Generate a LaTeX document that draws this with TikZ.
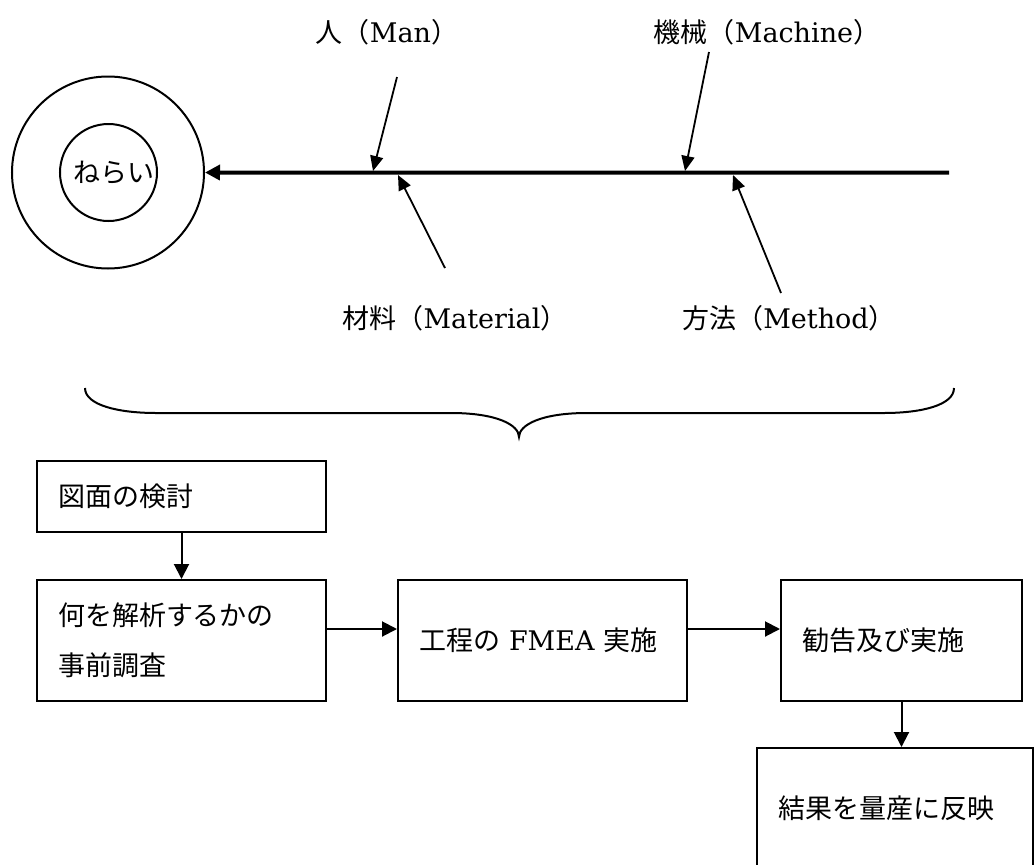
\documentclass[tikz,border=0pt]{standalone}
\usepackage{fontspec}
\setmainfont{DejaVu Serif}
\newfontfamily\jp{Noto Sans CJK JP}
\usetikzlibrary{arrows.meta}
\begin{document}
\begin{tikzpicture}[x=1pt,y=-1pt,
  font=\fontsize{27}{50}\selectfont,
  ring/.style={circle,draw,line width=2pt,inner sep=0pt},
  bone/.style={line width=1.8pt,-{Triangle[length=15pt,width=13pt]}},
  spine/.style={line width=4pt,-{Triangle[length=15pt,width=15pt]}},
  flow/.style={line width=2pt,-{Triangle[length=15pt,width=15pt]}},
  lbl/.style={inner sep=0pt},
  stepbox/.style={draw,line width=2pt,inner xsep=21pt,inner ysep=0pt,align=left}]
\useasboundingbox (0,0) rectangle (1034,865);

% goal circles
\node[ring,minimum size=192pt] (goal) at (108,172.5) {};
\node[ring,minimum size=97pt] (aim) at (108.5,172.5) {};
\node[lbl] (aimtxt) at (114,173) {\jp ねらい};

% spine
\coordinate (spineR) at (949,172.7);
\draw[spine] (spineR) -- (goal);

% bones
\coordinate (manS) at (397,77);  \coordinate (manT) at (373,171);
\coordinate (macS) at (709,52);  \coordinate (macT) at (685,171);
\coordinate (matS) at (445,268); \coordinate (matT) at (398,175);
\coordinate (metS) at (781,293); \coordinate (metT) at (733,175);
\draw[bone] (manS) -- (manT);
\draw[bone] (macS) -- (macT);
\draw[bone] (matS) -- (matT);
\draw[bone] (metS) -- (metT);

\node[lbl] (manL) at (387,32) {{\jp 人（}Man{\jp ）}};
\node[lbl] (macL) at (767,32) {{\jp 機械（}Machine{\jp ）}};
\node[lbl] (matL) at (455,318) {{\jp 材料（}Material{\jp ）}};
\node[lbl] (metL) at (789,318) {{\jp 方法（}Method{\jp ）}};

% brace
\draw[line width=2pt] (85,388) .. controls (85,405) and (118,413) .. (156,413)
  -- (451,413) .. controls (497,413) and (519,425) .. (519,437)
  .. controls (519,425) and (541,413) .. (587,413)
  -- (884,413) .. controls (922,413) and (954,405) .. (954,388);

% flow boxes
\node[stepbox,text width=247pt,minimum height=71pt] (b1) at (181.5,496.5) {\jp 図面の検討};
\node[stepbox,text width=247pt,minimum height=121pt] (b2) at (181.5,640.5) {\jp 何を解析するかの\\\jp 事前調査};
\node[stepbox,text width=247pt,minimum height=121pt] (b3) at (542.5,640.5) {{\jp 工程の} FMEA {\jp 実施}};
\node[stepbox,text width=199pt,minimum height=121pt] (b4) at (901.5,640.5) {\jp 勧告及び実施};
\node[stepbox,text width=234pt,minimum height=121pt] (b5) at (895,808.5) {\jp 結果を量産に反映};

\draw[flow] (b1.south) -- (b2.north);
\draw[flow] ([yshift=11.5pt]b2.east) -- ([yshift=11.5pt]b3.west);
\draw[flow] ([yshift=11.5pt]b3.east) -- ([yshift=11.5pt]b4.west);
\draw[flow] (b4.south) -- (b4.south |- b5.north);
\end{tikzpicture}
\end{document}
